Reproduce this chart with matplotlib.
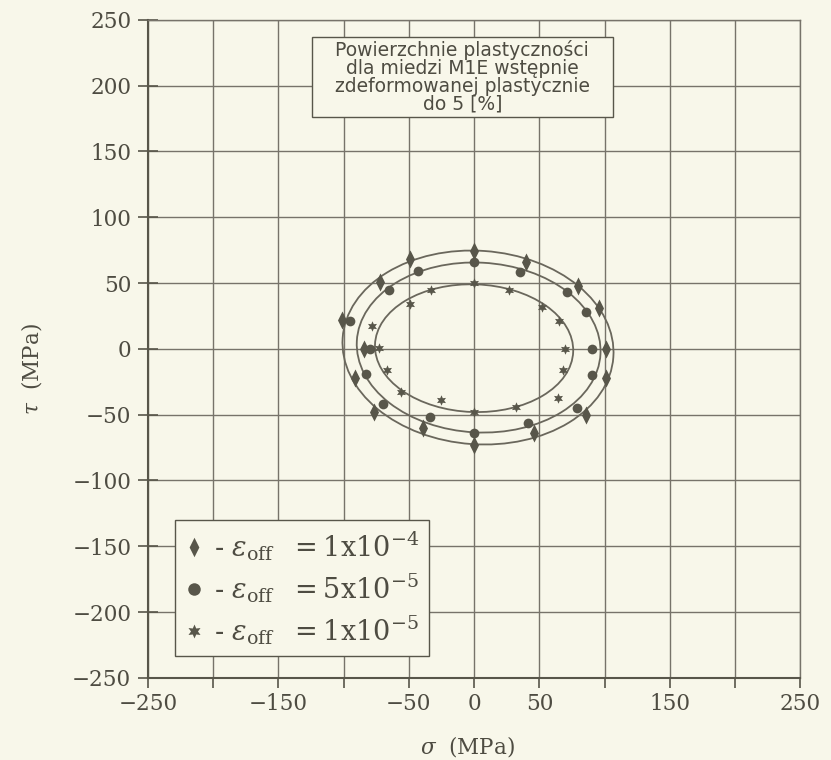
import matplotlib as mpl
mpl.use('Agg')
import matplotlib.pyplot as plt
from matplotlib.patches import Ellipse, Rectangle
from matplotlib.lines import Line2D

mpl.rcParams['mathtext.fontset'] = 'dejavuserif'
mpl.rcParams['font.family'] = 'DejaVu Serif'

# points: sigma, tau in MPa
d4_sig = [0, 40, 80, 96, 101, 101, 86, 46, 0, -39, -77, -91, -84, -101, -72, -49]
d4_tau = [74, 66, 48, 31, 0, -22, -50, -64, -73, -60, -48, -22, 0, 22, 51, 68]

c5_sig = [0, 35, 71, 86, 90, 90, 79, 41, 0, -34, -70, -83, -80, -95, -65, -43]
c5_tau = [66, 58, 43, 28, 0, -20, -45, -56, -64, -52, -42, -19, 0, 21, 45, 59]

s1_sig = [0, 27, 52, 65, 70, 68, 64, 32, 0, -25, -56, -67, -73, -78, -49, -33]
s1_tau = [50, 45, 32, 21, 0, -16, -37, -44, -48, -39, -33, -16, 1, 17, 34, 45]

# fitted curves: centre, half axes, tilt
ell_cx = [3, 3.5, 0]
ell_cy = [1, 1, 0.5]
ell_a = [104, 93.5, 76]
ell_b = [73.5, 64.5, 48.5]
ell_ang = [-4, -3, -2]

xticks = list(range(-250, 251, 50))
xlabels = ['-250', '', '-150', '', '-50', '0', '50', '', '150', '', '250']
yticks = list(range(-250, 251, 50))

bg = '#f8f7ea'
ink = '#58564a'
txt = '#4e4c42'
diamond = [(0, 1), (0.5, 0), (0, -1), (-0.5, 0), (0, 1)]

fig = plt.figure(figsize=(8.31, 7.6), dpi=100, facecolor=bg)
ax = fig.add_axes([0.178, 0.108, 0.785, 0.866], facecolor=bg)
ax.set_xlim(-250, 250)
ax.set_ylim(-250, 250)
ax.set_xticks(xticks)
ax.set_xticklabels([s.replace('-', '\u2212') for s in xlabels])
ax.set_yticks(yticks)
ax.set_yticklabels([str(v).replace('-', '\u2212') for v in yticks])
ax.grid(True, color='#77736a', lw=1.0)
ax.set_axisbelow(True)
ax.tick_params(axis='x', direction='out', length=7, width=1.2, color=ink,
               labelsize=15.5, labelcolor=txt, pad=4)
ax.tick_params(axis='y', direction='inout', length=14, width=1.2, color=ink,
               labelsize=15.5, labelcolor=txt, pad=5)
for side in ['left', 'bottom']:
    ax.spines[side].set_color(ink)
    ax.spines[side].set_linewidth(1.5)
for side in ['top', 'right']:
    ax.spines[side].set_color('#77736a')
    ax.spines[side].set_linewidth(1.0)

for cx, cy, a, b, ang in zip(ell_cx, ell_cy, ell_a, ell_b, ell_ang):
    ax.add_patch(Ellipse((cx, cy), 2 * a, 2 * b, angle=ang, fill=False,
                         ec='#6a675c', lw=1.3, zorder=3))

ax.plot(d4_sig, d4_tau, ls='none', marker=diamond, ms=13, mew=0, color=ink, zorder=4)
ax.plot(c5_sig, c5_tau, ls='none', marker='o', ms=7, mew=0, color=ink, zorder=4)
ax.plot(s1_sig, s1_tau, ls='none', marker=(6, 1, 0), ms=7.5, mew=0, color=ink, zorder=4)

# title box
ax.add_patch(Rectangle((-124, 176), 230.5, 61, fc=bg, ec=ink, lw=1.0, zorder=5))
ax.text(-9, 206.5, 'Powierzchnie plastyczności\ndla miedzi M1E wstępnie\n'
        'zdeformowanej plastycznie\ndo 5 [%]', family='DejaVu Sans',
        fontsize=13.5, color=txt, ha='center', va='center',
        linespacing=0.93, zorder=6)

handles = [
    Line2D([], [], ls='none', marker=diamond, ms=14, mew=0, color=ink),
    Line2D([], [], ls='none', marker='o', ms=9, mew=0, color=ink),
    Line2D([], [], ls='none', marker=(6, 1, 0), ms=10, mew=0, color=ink),
]
labels = [
    r'- $\varepsilon_{\rm off}$  $=1{\rm x}10^{-4}$',
    r'- $\varepsilon_{\rm off}$  $=5{\rm x}10^{-5}$',
    r'- $\varepsilon_{\rm off}$  $=1{\rm x}10^{-5}$',
]
leg = ax.legend(handles, labels, loc='lower left', bbox_to_anchor=(0.041, 0.033),
                borderaxespad=0, fontsize=19.5, handlelength=0.7, handletextpad=0.4,
                labelspacing=0.3, borderpad=0.35, fancybox=False, framealpha=1,
                facecolor=bg, edgecolor=ink)
leg.get_frame().set_linewidth(1.0)
leg.set_zorder(6)
for t in leg.get_texts():
    t.set_color(txt)

ax.set_xlabel(r'$\sigma$  (MPa)', fontsize=15.5, color=txt)
ax.xaxis.set_label_coords(0.49, -0.085)
ax.set_ylabel(r'$\tau$  (MPa)', fontsize=15.5, color=txt)
ax.yaxis.set_label_coords(-0.16, 0.47)

fig.savefig('out.png', dpi=100, facecolor=bg)
